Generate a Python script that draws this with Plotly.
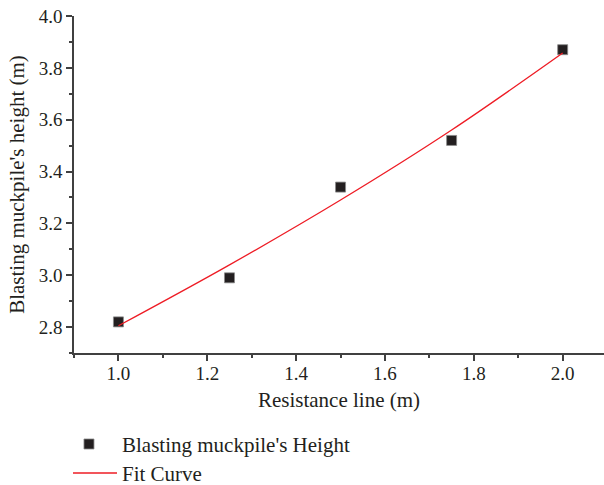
import plotly.graph_objects as go

# Data
resistance = [1.0, 1.25, 1.5, 1.75, 2.0]
height = [2.82, 2.99, 3.34, 3.52, 3.87]
fit_x = [1.0, 1.25, 1.5, 1.75, 2.0]
fit_y = [2.805, 3.04, 3.29, 3.56, 3.857]

x_ticks = [1.0, 1.2, 1.4, 1.6, 1.8, 2.0]
y_ticks = [2.8, 3.0, 3.2, 3.4, 3.6, 3.8, 4.0]

FONT = "Liberation Serif"
TXT = "#231f20"
AX = "#404040"

fig = go.Figure()
fig.add_trace(go.Scatter(
    x=resistance, y=height, mode="markers",
    name="Blasting muckpile's Height", legend="legend",
    marker=dict(symbol="square", size=10, color="#231f20",
                line=dict(color="#8a8a8a", width=0.8)),
    cliponaxis=False,
))
fig.add_trace(go.Scatter(
    x=fit_x, y=fit_y, mode="lines", name="Fit Curve", legend="legend2",
    line=dict(color="#ee1c25", width=1.3, shape="spline"),
))

axis_common = dict(
    showline=True, linecolor=AX, linewidth=1.5,
    ticks="outside", tickcolor=AX, tickwidth=1.5, ticklen=6,
    showgrid=False, zeroline=False, mirror=False, automargin=False,
    tickfont=dict(family=FONT, size=19, color=TXT),
)

legend_common = dict(
    xanchor="left", yanchor="top", bgcolor="rgba(0,0,0,0)",
    font=dict(family=FONT, size=21, color=TXT), borderwidth=0,
)

fig.update_layout(
    width=604, height=485,
    margin=dict(l=74, r=0, t=16, b=132, autoexpand=False),
    paper_bgcolor="white", plot_bgcolor="white",
    font=dict(family=FONT, color=TXT),
    xaxis=dict(
        range=[0.9, 2.093], tickvals=x_ticks,
        ticktext=[f"{v:.1f}" for v in x_ticks],
        ticklabelstandoff=-4,
        minor=dict(ticks="outside", dtick=0.1, tick0=0.9, ticklen=3,
                   tickcolor=AX, tickwidth=1.5),
        title=dict(text="Resistance line (m)",
                   font=dict(family=FONT, size=21, color=TXT), standoff=10),
        **axis_common,
    ),
    yaxis=dict(
        range=[2.7, 4.0], tickvals=y_ticks,
        ticktext=[f"{v:.1f}" for v in y_ticks],
        minor=dict(ticks="outside", dtick=0.1, tick0=2.7, ticklen=3,
                   tickcolor=AX, tickwidth=1.5),
        title=dict(text="Blasting muckpile's height (m)",
                   font=dict(family=FONT, size=21, color=TXT), standoff=8),
        **axis_common,
    ),
    legend=dict(x=-0.034, y=-0.2102, itemwidth=56, **legend_common),
    legend2=dict(x=-0.0113, y=-0.2963, itemwidth=44, **legend_common),
    showlegend=True,
)

fig.write_html("out.html")
